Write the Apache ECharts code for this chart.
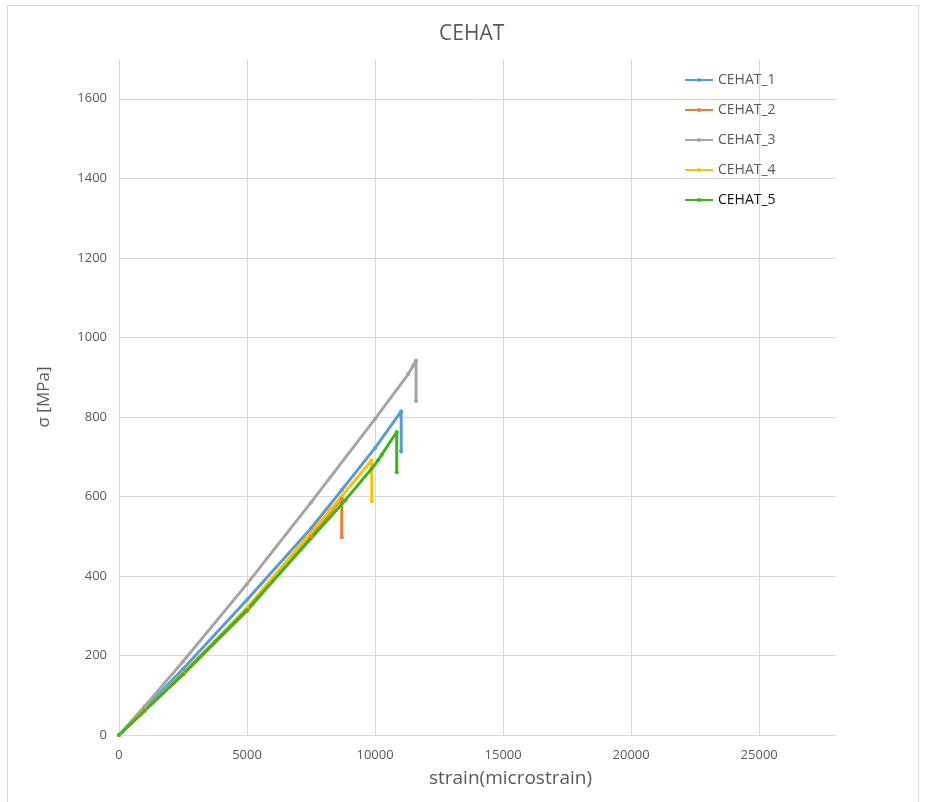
<!DOCTYPE html>
<html>
<head>
<meta charset="utf-8">
<script src="https://cdn.jsdelivr.net/npm/echarts@6/dist/echarts.min.js"></script>
<style>
  html, body { margin: 0; padding: 0; background: #fff; }
  #chart { width: 925px; height: 802px; }
</style>
</head>
<body>
<div id="chart"></div>
<script>
// strain (microstrain) and stress (MPa)
const strain1 = [0, 1000, 2500, 5000, 7500, 8699, 10000, 11020, 11020];
const stress1 = [0, 66, 166, 340, 520, 616, 722, 814, 713];
const strain2 = [0, 1000, 2500, 5000, 7500, 8700, 8700];
const stress2 = [0, 61, 152, 312, 500, 595, 497];
const strain3 = [0, 1000, 2500, 5000, 7500, 10000, 11290, 11500, 11600, 11600];
const stress3 = [0, 72, 185, 380, 585, 795, 907, 930, 942, 840];
const strain4 = [0, 1000, 2500, 5000, 8242, 9870, 9870];
const stress4 = [0, 62, 155, 320, 565, 691, 588];
const strain5 = [0, 1000, 2500, 4987, 8828, 9870, 10117, 10260, 10846, 10846];
const stress5 = [0, 61, 153, 314, 590, 670, 691, 705, 762, 661];

const names = ['CEHAT_1', 'CEHAT_2', 'CEHAT_3', 'CEHAT_4', 'CEHAT_5'];
const colors = ['#5B9BD5', '#ED7D31', '#A5A5A5', '#FFC000', '#3DB41E'];
const xs = [strain1, strain2, strain3, strain4, strain5];
const ys = [stress1, stress2, stress3, stress4, stress5];

const font = 'Open Sans';
const grey = '#595959';

let chart = echarts.init(document.getElementById('chart'));
let option = {
  animation: false,
  color: colors,
  title: {
    text: 'CEHAT',
    left: 439,
    top: 24,
    padding: 0,
    textStyle: { color: grey, fontSize: 21, fontWeight: 'normal', fontFamily: font }
  },
  graphic: [{
    type: 'rect',
    shape: { x: 7.5, y: 5.5, width: 911, height: 810 },
    style: { fill: 'none', stroke: '#d9d9d9', lineWidth: 1 },
    silent: true
  }],
  legend: {
    orient: 'vertical',
    left: 684,
    top: 71,
    padding: 0,
    itemWidth: 28,
    itemHeight: 5,
    itemGap: 12,
    textStyle: { color: grey, fontSize: 14, fontFamily: font, lineHeight: 18 },
    data: names.map((n, i) => i === 4 ? { name: n, textStyle: { color: '#111' } } : n)
  },
  grid: { left: 119, right: 89, top: 59, bottom: 67 },
  xAxis: {
    type: 'value',
    min: 0,
    max: 28000,
    interval: 5000,
    name: 'strain(microstrain)',
    nameLocation: 'middle',
    nameGap: 34,
    nameTextStyle: { color: grey, fontSize: 19, fontFamily: font, padding: [0, 0, 0, 66] },
    axisLine: { lineStyle: { color: '#d9d9d9' } },
    axisTick: { show: false },
    axisLabel: { color: grey, fontSize: 13, fontFamily: font, margin: 14, showMaxLabel: false,
      formatter: v => String(v) },
    splitLine: { show: true, showMaxLine: false, lineStyle: { color: '#d9d9d9' } }
  },
  yAxis: {
    type: 'value',
    min: 0,
    max: 1700,
    interval: 200,
    name: 'σ [MPa]',
    nameLocation: 'middle',
    nameGap: 66,
    nameTextStyle: { color: grey, fontSize: 17, fontFamily: font },
    axisLine: { show: false },
    axisTick: { show: false },
    axisLabel: { color: grey, fontSize: 13, fontFamily: font, margin: 12, showMaxLabel: false,
      formatter: v => String(v) },
    splitLine: { show: true, showMaxLine: false, lineStyle: { color: '#d9d9d9' } }
  },
  series: names.map((n, i) => ({
    name: n,
    type: 'line',
    data: xs[i].map((x, j) => [x, ys[i][j]]),
    symbol: 'circle',
    symbolSize: 4,
    lineStyle: { width: 3 }
  }))
};
chart.setOption(option);
</script>
</body>
</html>
